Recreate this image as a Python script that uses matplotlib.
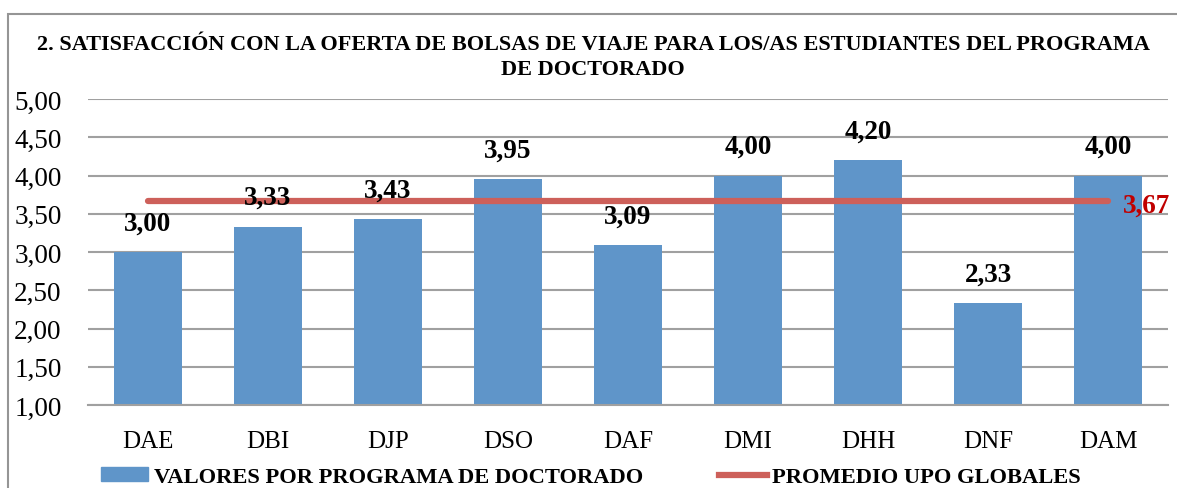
import matplotlib.pyplot as plt
from matplotlib.patches import Rectangle, Patch
from matplotlib.lines import Line2D
import numpy as np

# Datos del grafico
programas = ['DAE', 'DBI', 'DJP', 'DSO', 'DAF', 'DMI', 'DHH', 'DNF', 'DAM']
valores = [3.00, 3.33, 3.43, 3.95, 3.09, 4.00, 4.20, 2.33, 4.00]
promedio_upo = 3.67
yticks = [1.0, 1.5, 2.0, 2.5, 3.0, 3.5, 4.0, 4.5, 5.0]

titulo = ('2. SATISFACCIÓN CON LA OFERTA DE BOLSAS DE VIAJE PARA LOS/AS ESTUDIANTES DEL PROGRAMA\n'
          'DE DOCTORADO')

color_barra = '#5F95C9'
color_linea = '#CD605A'
serif = ['Liberation Serif', 'DejaVu Serif']

def coma(v):
    return f'{v:.2f}'.replace('.', ',')

fig = plt.figure(figsize=(11.77, 4.89), dpi=100)
ax = fig.add_axes([0.0748, 0.1697, 0.9176, 0.6258])

x = np.arange(len(programas))
ax.bar(x, valores, width=0.57, color=color_barra, zorder=2)
ax.plot([x[0], x[-1]], [promedio_upo, promedio_upo], color=color_linea, lw=4.5,
        solid_capstyle='round', zorder=3)

for xi, v in zip(x, valores):
    ax.annotate(coma(v), (xi, v), xytext=(0, 21), textcoords='offset points',
                ha='center', va='center', fontsize=19.5, fontweight='bold',
                family=serif, color='black', zorder=4)
ax.annotate(coma(promedio_upo), (x[-1], promedio_upo), xytext=(11, -3),
            textcoords='offset points', ha='left', va='center', fontsize=19.5,
            fontweight='bold', family=serif, color='#C00000',
            annotation_clip=False, zorder=4)

ax.set_xlim(-0.5, len(programas) - 0.5)
ax.set_ylim(1, 5)
ax.set_yticks(yticks)
ax.set_yticklabels([coma(t) for t in yticks], family=serif, fontsize=19.5)
ax.set_xticks(x)
ax.set_xticklabels(programas, family=serif, fontsize=18)
ax.tick_params(axis='both', length=0)
ax.tick_params(axis='y', pad=19)
ax.tick_params(axis='x', pad=18)
ax.grid(axis='y', color='#A0A0A0', lw=1.5, zorder=0)
for s in ['left', 'right', 'top']:
    ax.spines[s].set_visible(False)
ax.spines['bottom'].set_color('#A0A0A0')
ax.spines['bottom'].set_linewidth(1.5)

fig.text(0.504, 0.883, titulo, ha='center', va='center', fontsize=16.0,
         fontweight='bold', family=serif, linespacing=1.35)

# Marco del grafico
fig.patches.append(Rectangle((8 / 1177, -0.1), 1.2, 1 - 15 / 489 + 0.1,
                             transform=fig.transFigure, fill=False,
                             edgecolor='#959595', lw=1.5))

handles = [Patch(color=color_barra), Line2D([], [], color=color_linea, lw=4.5)]
etiquetas = ['VALORES POR PROGRAMA DE DOCTORADO', 'PROMEDIO UPO GLOBALES']
fig.legend(handles, etiquetas, loc='center', bbox_to_anchor=(0.502, 0.022), ncol=2,
           frameon=False, prop={'family': serif, 'weight': 'bold', 'size': 16.2},
           handlelength=2.1, handleheight=0.6, handletextpad=0.25, columnspacing=3.4)

fig.savefig('out.png', dpi=100)
